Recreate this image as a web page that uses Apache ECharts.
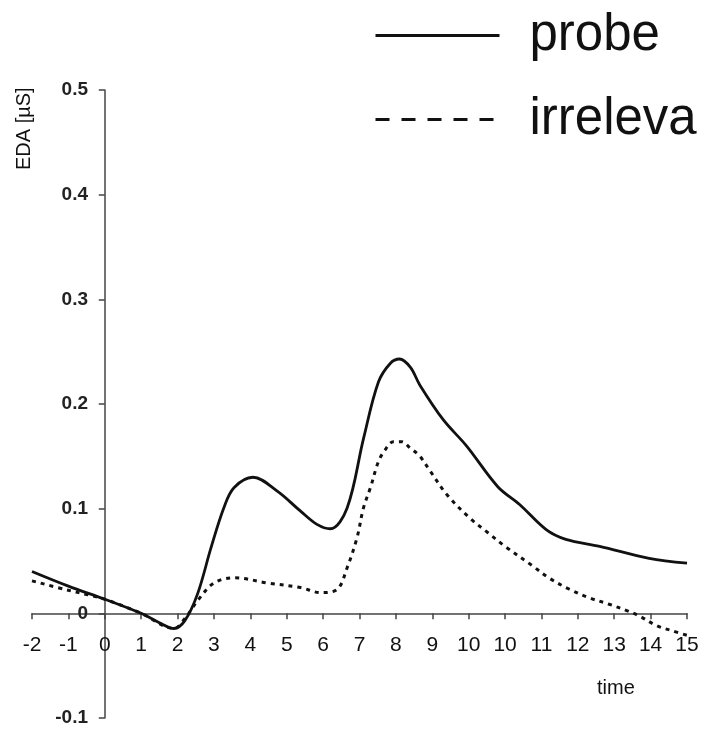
<!DOCTYPE html>
<html>
<head>
<meta charset="utf-8">
<title>EDA</title>
<script src="https://cdn.jsdelivr.net/npm/echarts@6/dist/echarts.min.js"></script>
<style>
	html, body { margin: 0; padding: 0; background: #fff; }
	#main { width: 704px; height: 736px; }
</style>
</head>
<body>
<div id="main"></div>
<script>
// tick labels along the time axis (the source repeats "10")
var tickLabels = ['-2', '-1', '0', '1', '2', '3', '4', '5', '6', '7', '8', '9', '10', '10', '11', '12', '13', '14', '15'];
var yTicks = [-0.1, 0, 0.1, 0.2, 0.3, 0.4, 0.5];
var seriesNames = ['probe', 'irreleva'];

// positions on the time axis (tick index - 2) and EDA values
var probeT = [-2, -1, 0, 1, 1.5, 1.9, 2.2, 2.55, 2.92, 3.27, 3.55, 4.07, 4.74, 5.38, 5.83, 6.2, 6.66, 7.11, 7.52, 7.85, 8.1, 8.4, 8.66, 9.3, 9.94, 10.8, 11.4, 12.13, 12.67, 13.6, 14.96, 16];
var probeV = [0.040, 0.026, 0.0135, 0.0, -0.009, -0.0145, -0.007, 0.0186, 0.0627, 0.1007, 0.12, 0.130, 0.1167, 0.0976, 0.085, 0.0808, 0.1007, 0.167, 0.221, 0.239, 0.243, 0.235, 0.218, 0.185, 0.16, 0.121, 0.104, 0.08, 0.0707, 0.064, 0.0526, 0.048];

var irrT = [-2, -1, -0.5, 0, 1, 1.9, 2.2, 2.55, 3.0, 3.56, 4.47, 5.38, 5.93, 6.39, 6.66, 6.93, 7.11, 7.3, 7.52, 7.7, 7.93, 8.16, 8.39, 8.66, 8.94, 9.4, 10.03, 10.53, 11, 11.77, 12.22, 12.77, 13.3, 13.86, 14.36, 14.68, 15.18, 15.6, 16];
var irrV = [0.031, 0.022, 0.018, 0.0135, 0.0, -0.0145, -0.005, 0.012, 0.029, 0.034, 0.029, 0.0246, 0.0198, 0.023, 0.0436, 0.072, 0.1008, 0.12, 0.145, 0.156, 0.164, 0.164, 0.158, 0.15, 0.136, 0.1135, 0.091, 0.077, 0.064, 0.045, 0.0335, 0.023, 0.015, 0.0087, 0.0024, -0.0024, -0.012, -0.0167, -0.021];

var FONT = '"Liberation Sans", Arial, sans-serif';

init();

function init() {
	var myChart = echarts.init(document.getElementById('main'), null, { renderer: 'canvas' });
	myChart.setOption(buildOption());
}

function pairs(xs, ys) {
	var out = [];
	for (var i = 0; i < xs.length; i++) {
		out.push([xs[i], ys[i]]);
	}
	return out;
}

function buildOption() {
	return {
		backgroundColor: '#fff',
		animation: false,
		color: ['#111', '#111'],
		grid: { left: 32, right: 17, top: 90, bottom: 18, containLabel: false, outerBoundsMode: 'none' },
		legend: {
			orient: 'vertical',
			left: 374,
			top: 10,
			padding: 0,
			itemWidth: 124,
			itemHeight: 14,
			itemGap: 33,
			itemStyle: { opacity: 0 },
			textStyle: { fontFamily: FONT, fontSize: 51, color: '#111', padding: [0, 0, 0, 25] },
			data: [
				{ name: seriesNames[0], lineStyle: { width: 3, type: 'solid', color: '#111' } },
				{ name: seriesNames[1], lineStyle: { width: 3, type: [14, 12], color: '#111' } }
			]
		},
		xAxis: {
			type: 'value',
			min: -2,
			max: 16,
			interval: 1,
			splitLine: { show: false },
			axisLine: { onZero: true, lineStyle: { color: '#444', width: 1.5 } },
			axisTick: { show: true, length: 6, lineStyle: { color: '#444', width: 1.5 } },
			axisLabel: {
				margin: -83,
				fontFamily: FONT,
				fontSize: 21,
				color: '#111',
				formatter: function (v) {
					return tickLabels[Math.round(v) + 2];
				}
			}
		},
		yAxis: {
			type: 'value',
			min: yTicks[0],
			max: yTicks[yTicks.length - 1],
			interval: 0.1,
			splitLine: { show: false },
			axisLine: { onZero: true, lineStyle: { color: '#444', width: 1.5 } },
			axisTick: { show: true, length: 6, lineStyle: { color: '#444', width: 1.5 } },
			axisLabel: {
				margin: -56,
				fontFamily: FONT,
				fontSize: 19,
				fontWeight: 'bold',
				color: '#222',
				formatter: function (v) {
					return String(Math.round(v * 10) / 10);
				}
			}
		},
		graphic: [
			{
				type: 'text',
				x: 14,
				y: 170,
				rotation: Math.PI / 2,
				style: { text: 'EDA [µS]', fontFamily: FONT, fontSize: 20, fill: '#111', textAlign: 'left', textVerticalAlign: 'top' }
			},
			{
				type: 'text',
				x: 597,
				y: 678,
				style: { text: 'time', fontFamily: FONT, fontSize: 20, fill: '#111' }
			}
		],
		series: [
			{
				name: seriesNames[0],
				type: 'line',
				data: pairs(probeT, probeV),
				smooth: 0.35,
				symbol: 'none',
				lineStyle: { color: '#111', width: 2.8 }
			},
			{
				name: seriesNames[1],
				type: 'line',
				data: pairs(irrT, irrV),
				smooth: 0.35,
				symbol: 'none',
				lineStyle: { color: '#111', width: 3, type: [4, 5] }
			}
		]
	};
}
</script>
</body>
</html>
